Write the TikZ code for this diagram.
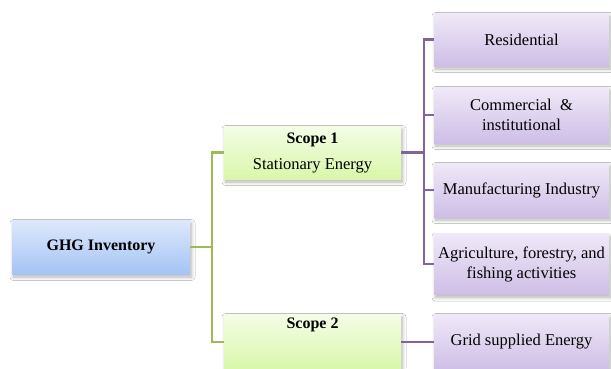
\documentclass[tikz,border=0pt]{standalone}
\usepackage{fontspec}
\setmainfont{Liberation Serif}
\usetikzlibrary{shadows.blur}
\definecolor{bluetop}{HTML}{DEE9FC}
\definecolor{bluebot}{HTML}{A5C3F5}
\definecolor{greentop}{HTML}{F4FDE6}
\definecolor{greenbot}{HTML}{D9F7AA}
\definecolor{purptop}{HTML}{F0E9F8}
\definecolor{purpbot}{HTML}{CEBEE6}
\definecolor{greenline}{HTML}{9BBB59}
\definecolor{purpline}{HTML}{8064A2}
\tikzset{
  box/.style={inner sep=0pt, align=center, font=\fontsize{16.5}{20}\selectfont,
    blur shadow={shadow xshift=1.5pt, shadow yshift=-3pt, shadow blur steps=8, shadow blur radius=3.5pt, shadow opacity=30}},
  bluebox/.style={box, top color=bluetop, bottom color=bluebot},
  greenbox/.style={box, top color=greentop, bottom color=greenbot, minimum width=177pt},
  purpbox/.style={box, top color=purptop, bottom color=purpbot, minimum width=175pt},
  gline/.style={draw=greenline, line width=2.2pt},
  pline/.style={draw=purpline, line width=2.2pt},
  lbl/.style={inner sep=0pt, font=\fontsize{16.5}{20}\selectfont}
}
\begin{document}
\begin{tikzpicture}[x=1pt, y=-1pt]
\useasboundingbox (0,0) rectangle (611,368);
\fill[white] (0,0) rectangle (611,368);
% left
\node[bluebox, minimum width=178pt, minimum height=54pt] (ghg) at (101,247) {\fontsize{16}{20}\selectfont\textbf{GHG Inventory}};
% middle
\node[greenbox, minimum height=53pt] (s1) at (312.5,152.5) {\fontsize{16}{20}\selectfont\textbf{Scope 1}\\[6pt]Stationary Energy};
\node[greenbox, minimum height=56pt] (s2) at (312.5,342) {};
\node[lbl, anchor=base] (s2t) at ([yshift=-15pt]s2.north) {\fontsize{16}{20}\selectfont\textbf{Scope 2}};
% right
\node[purpbox, minimum height=53pt] (r1) at (521.5,39.5) {Residential};
\node[purpbox, minimum height=56pt] (r2) at (521.5,115) {Commercial \ \&\\institutional};
\node[purpbox, minimum height=54pt] (r3) at (521.5,190) {Manufacturing Industry};
\node[purpbox, minimum height=61pt] (r4) at (521.5,264) {Agriculture, forestry, and\\fishing activities};
\node[purpbox, minimum height=56pt] (r5) at (521.5,342) {Grid supplied Energy};
% green connectors
\coordinate (gj) at (212,247);
\draw[gline] (s1.west) -| (gj) |- (s2.west);
\draw[gline] (ghg.east) -- (gj);
% purple connectors
\coordinate (pj) at (424,152.5);
\draw[pline] (s1.east) -- (pj);
\draw[pline] (r1.west) -| (pj) |- (r4.west);
\draw[pline] (r2.west) -- (r2.west -| pj);
\draw[pline] (r3.west) -- (r3.west -| pj);
\draw[pline] (s2.east) -- (r5.west);
\end{tikzpicture}
\end{document}
